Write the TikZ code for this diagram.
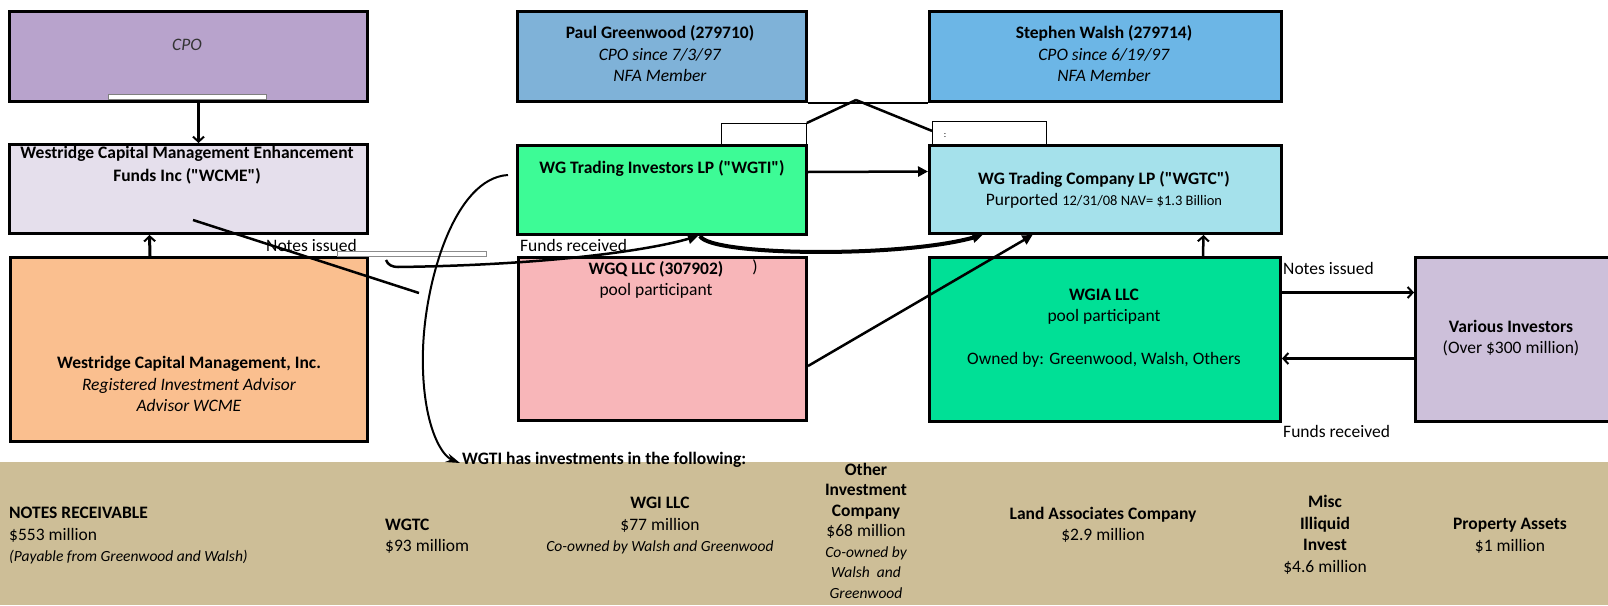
\documentclass[tikz,border=0pt]{standalone}
\usepackage{fontspec}
\setmainfont{Carlito}[Ligatures=TeXOff]
\usetikzlibrary{arrows.meta}

\definecolor{cpofill}{HTML}{B8A3CC}
\definecolor{wcmefill}{HTML}{E5DFEC}
\definecolor{wcmfill}{HTML}{FABF8F}
\definecolor{paulfill}{HTML}{7FB2D8}
\definecolor{walshfill}{HTML}{6CB6E6}
\definecolor{wgtifill}{HTML}{3DFB96}
\definecolor{wgtcfill}{HTML}{A5E1EB}
\definecolor{wgqfill}{HTML}{F8B6B9}
\definecolor{wgiafill}{HTML}{00E096}
\definecolor{variousfill}{HTML}{CDC0DA}
\definecolor{bandfill}{HTML}{CDBE97}

\begin{document}
\begin{tikzpicture}[x=1pt, y=-1pt,
    box/.style={draw, line width=3pt, anchor=north west, inner sep=0pt},
    txt/.style={font=\fontsize{17.5}{21.5}\selectfont, align=center, inner sep=0pt},
    itxt/.style={font=\fontsize{17.5}{21.5}\selectfont\itshape, align=center, inner sep=0pt},
    tab/.style={draw, fill=white, line width=0.8pt, anchor=north west, inner sep=0pt},
    arr/.style={-{Triangle[length=10pt,width=10pt]}, line width=2.5pt},
    barb/.style={-{Straight Barb[length=5pt,width=11pt,line width=2pt]}, line width=2.5pt}]
    \useasboundingbox (0,0) rectangle (1608,605);

    % Investments band
    \node (band) [fill=bandfill, anchor=north west, inner sep=0pt, minimum width=1608pt, minimum height=143pt] at (0,462) {};

    % Left column
    \node (cpo) [box, fill=cpofill, minimum width=358pt, minimum height=90pt] at (8,10) {};
    \node (cpotxt) [itxt, text=black!80] at (187,45) {CPO};
    \node (cpotab) [tab, draw=black!50, minimum width=158pt, minimum height=5pt] at (108,94) {};
    \node (wcme) [box, fill=wcmefill, minimum width=358pt, minimum height=89pt] at (8,143) {};
    \node (wcmetxt) [txt, font=\fontsize{17.5}{23}\selectfont\bfseries] at (187,165) {Westridge Capital Management Enhancement\\Funds Inc ("WCME")};
    \node (wcm) [box, fill=wcmfill, minimum width=357pt, minimum height=184pt] at (9,256) {};
    \node (wcmtxt) [txt] at (189,384) {\textbf{Westridge Capital Management, Inc.}\\\textit{Registered Investment Advisor}\\\textit{Advisor WCME}};

    % Middle column
    \node (paul) [box, fill=paulfill, minimum width=289pt, minimum height=90pt] at (516,10) {};
    \node (paultxt) [txt] at (660,54) {\textbf{Paul Greenwood (279710)}\\\textit{CPO since 7/3/97}\\\textit{NFA Member}};
    \node (wgti) [box, fill=wgtifill, minimum width=289pt, minimum height=89pt] at (516,144) {};
    \node (wgtitxt) [txt, font=\fontsize{17.5}{21.5}\selectfont\bfseries] at (662,168) {WG Trading Investors LP ("WGTI")};
    \node (wgq) [box, fill=wgqfill, minimum width=288pt, minimum height=163pt] at (517,256) {};
    \node (wgqtxt) [txt] at (656,280) {\textbf{WGQ LLC (307902)}\\pool participant};
    \node (wgqparen) [txt] at (755,267) {)};

    % Right column
    \node (walsh) [box, fill=walshfill, minimum width=352pt, minimum height=90pt] at (928,10) {};
    \node (walshtxt) [txt] at (1104,54) {\textbf{Stephen Walsh (279714)}\\\textit{CPO since 6/19/97}\\\textit{NFA Member}};
    \node (wgtc) [box, fill=wgtcfill, minimum width=352pt, minimum height=88pt] at (928,144) {};
    \node (wgtctxt) [txt] at (1104,190) {\textbf{WG Trading Company LP ("WGTC")}\\Purported {\fontsize{14.5}{21.5}\selectfont 12/31/08 NAV= \$1.3 Billion}};
    \node (wgia) [box, fill=wgiafill, minimum width=351pt, minimum height=164pt] at (928,256) {};
    \node (wgiatxt) [txt] at (1104,328) {\textbf{WGIA LLC}\\pool participant\\[21.5pt]Owned by: Greenwood, Walsh, Others};
    \node (various) [box, fill=variousfill, minimum width=200pt, minimum height=164pt] at (1414,256) {};
    \node (varioustxt) [txt] at (1511,338) {\textbf{Various Investors}\\(Over \$300 million)};

    % Tabs between the owners and the funds
    \node (lefttab) [tab, minimum width=85pt, minimum height=21pt] at (721,123) {};
    \node (righttab) [tab, minimum width=114pt, minimum height=23pt] at (932,121) {};
    \node (colon) [txt, font=\fontsize{9}{10}\selectfont] at (945,136) {:};

    % Labels
    \node (notesleft) [txt, anchor=west] at (266,245) {Notes issued};
    \node (notestab) [tab, draw=black!45, minimum width=149pt, minimum height=5pt] at (337,251) {};
    \node (fundsleft) [txt, anchor=west] at (520,245) {Funds received};
    \node (notesright) [txt, anchor=west] at (1283,268) {Notes issued};
    \node (fundsright) [txt, anchor=west] at (1283,431) {Funds received};
    \node (investtxt) [txt, font=\fontsize{17.5}{21.5}\selectfont\bfseries, anchor=west] at (462,460) {WGTI has investments in the following:};

    % Investments
    \node (notesrec) [txt, align=left, anchor=west] at (9,536) {\textbf{NOTES RECEIVABLE}\\\$553 million\\{\fontsize{15.5}{21.5}\selectfont\itshape (Payable from Greenwood and Walsh)}};
    \node (wgtcinv) [txt, align=left, anchor=west] at (385,536) {\textbf{WGTC}\\\$93 milliom};
    \node (wgiinv) [txt] at (660,526) {\textbf{WGI LLC}\\\$77 million\\{\fontsize{15.5}{21.5}\selectfont\itshape Co-owned by Walsh and Greenwood}};
    \node (otherinv) [txt, font=\fontsize{17.5}{20.5}\selectfont, anchor=north] at (866,463) {\textbf{Other}\\\textbf{Investment}\\\textbf{Company}\\\$68 million\\{\fontsize{15.5}{20}\selectfont\itshape Co-owned by}\\{\fontsize{15.5}{19.5}\selectfont\itshape Walsh~ and}\\{\fontsize{15.5}{19}\selectfont\itshape Greenwood}};
    \node (landinv) [txt] at (1103,525) {\textbf{Land Associates Company}\\\$2.9 million};
    \node (miscinv) [txt] at (1325,535) {\textbf{Misc}\\\textbf{Illiquid}\\\textbf{Invest}\\\$4.6 million};
    \node (propinv) [txt] at (1510,536) {\textbf{Property Assets}\\\$1 million};

    % Free ends
    \coordinate (peak) at (856,100);
    \coordinate (wcmestart) at (193,220);
    \coordinate (strayend) at (419,293);
    \coordinate (hookstart) at (386,260);

    % Arrows
    \draw[barb] ([xshift=10pt]cpo.south) -- ([xshift=10pt]wcme.north);
    \draw[barb, line width=3pt] ([xshift=-39pt]wcm.north) -- ([xshift=-39pt]wcme.south);
    \draw[line width=2.5pt] (wcmestart) -- (strayend);
    \draw[arr, line width=2.5pt] (hookstart) to[out=-70,in=180] (398,267) .. controls (550,265) and (650,250) .. ([xshift=36pt]wgti.south);
    \draw[arr, line width=4pt] ([xshift=38pt]wgti.south) .. controls (710,256) and (900,258) .. ([xshift=-123pt]wgtc.south);
    \draw[arr] ([yshift=-27pt]wgq.east) -- ([xshift=-73pt]wgtc.south);
    \draw[arr] ([yshift=18pt]wgti.east) -- ([yshift=18pt]wgtc.west);
    \draw[barb] ([xshift=98pt]wgia.north) -- ([xshift=98pt]wgtc.south);
    \draw[barb] ([yshift=47pt]wgia.east) -- ([yshift=47pt]various.west);
    \draw[barb] ([yshift=-19pt]various.west) -- ([yshift=-19pt]wgia.east);
    \draw[line width=2.5pt] (paul.south east) -- (walsh.south west);
    \draw[line width=2.5pt] (peak) -- (lefttab.north east);
    \draw[line width=2.5pt] (peak) -- ([yshift=2pt]righttab.west);
    \draw[-{Stealth[length=14pt,width=9pt]}, line width=2pt] ([xshift=-8pt,yshift=15pt]wgti.west) .. controls (455,178) and (425,280) .. (423,350) .. controls (421,420) and (440,455) .. ([xshift=-2pt,yshift=-3pt]investtxt.west);
\end{tikzpicture}
\end{document}
